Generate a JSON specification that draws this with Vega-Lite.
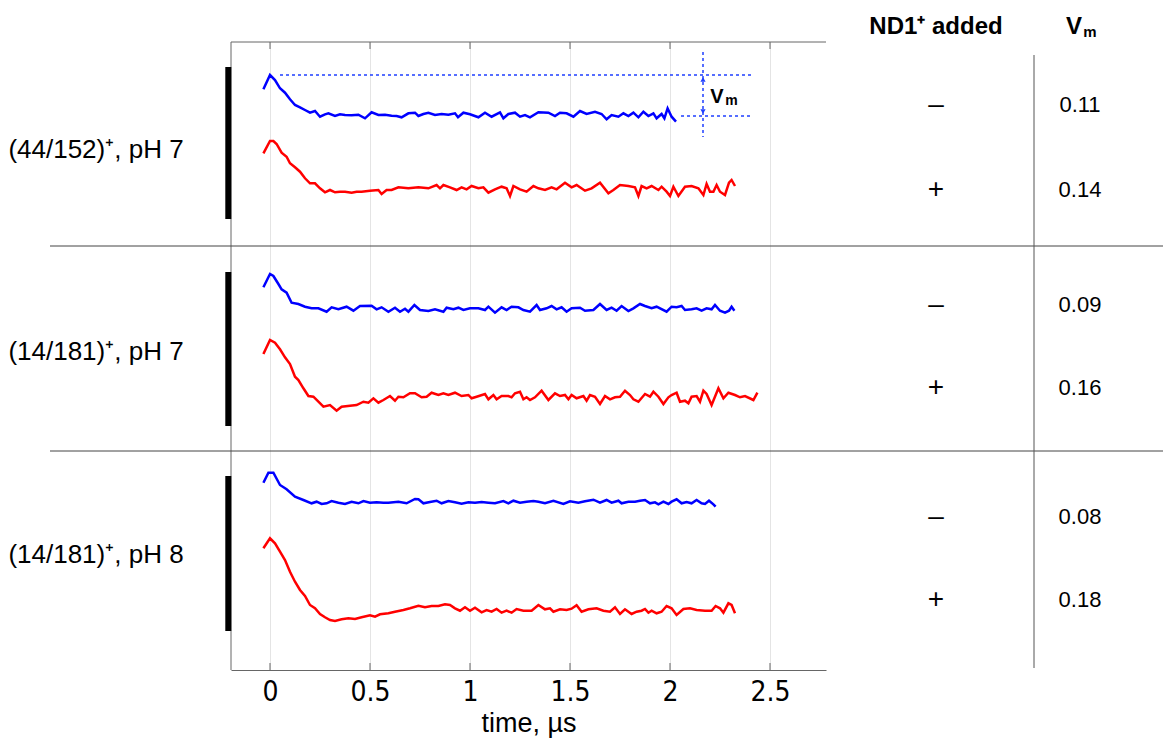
{
  "$schema": "https://vega.github.io/schema/vega-lite/v6.json",
  "width": 595,
  "height": 628,
  "autosize": {"type": "none"},
  "padding": {"left": 231, "top": 42, "right": 337, "bottom": 70},
  "background": "white",
  "config": {"view": {"stroke": null}, "font": "Liberation Sans"},
  "datasets": {
    "traces": [
      {"p":1,"nd":"−","t":-0.033,"v":5.807},{"p":1,"nd":"−","t":0,"v":5.95},{"p":1,"nd":"−","t":0.025,"v":5.9},{"p":1,"nd":"−","t":0.05,"v":5.817},{"p":1,"nd":"−","t":0.075,"v":5.773},{"p":1,"nd":"−","t":0.1,"v":5.707},{"p":1,"nd":"−","t":0.125,"v":5.65},{"p":1,"nd":"−","t":0.15,"v":5.627},{"p":1,"nd":"−","t":0.175,"v":5.6},{"p":1,"nd":"−","t":0.2,"v":5.573},{"p":1,"nd":"−","t":0.225,"v":5.59},{"p":1,"nd":"−","t":0.25,"v":5.533},{"p":1,"nd":"−","t":0.275,"v":5.557},{"p":1,"nd":"−","t":0.292,"v":5.567},{"p":1,"nd":"−","t":0.325,"v":5.54},{"p":1,"nd":"−","t":0.35,"v":5.557},{"p":1,"nd":"−","t":0.375,"v":5.55},{"p":1,"nd":"−","t":0.408,"v":5.547},{"p":1,"nd":"−","t":0.442,"v":5.553},{"p":1,"nd":"−","t":0.475,"v":5.517},{"p":1,"nd":"−","t":0.508,"v":5.577},{"p":1,"nd":"−","t":0.542,"v":5.55},{"p":1,"nd":"−","t":0.575,"v":5.553},{"p":1,"nd":"−","t":0.608,"v":5.543},{"p":1,"nd":"−","t":0.633,"v":5.54},{"p":1,"nd":"−","t":0.658,"v":5.527},{"p":1,"nd":"−","t":0.692,"v":5.567},{"p":1,"nd":"−","t":0.725,"v":5.573},{"p":1,"nd":"−","t":0.742,"v":5.54},{"p":1,"nd":"−","t":0.767,"v":5.56},{"p":1,"nd":"−","t":0.792,"v":5.573},{"p":1,"nd":"−","t":0.825,"v":5.55},{"p":1,"nd":"−","t":0.858,"v":5.56},{"p":1,"nd":"−","t":0.892,"v":5.553},{"p":1,"nd":"−","t":0.925,"v":5.567},{"p":1,"nd":"−","t":0.94,"v":5.527},{"p":1,"nd":"−","t":0.967,"v":5.573},{"p":1,"nd":"−","t":1.0,"v":5.557},{"p":1,"nd":"−","t":1.042,"v":5.527},{"p":1,"nd":"−","t":1.075,"v":5.573},{"p":1,"nd":"−","t":1.108,"v":5.533},{"p":1,"nd":"−","t":1.15,"v":5.577},{"p":1,"nd":"−","t":1.167,"v":5.517},{"p":1,"nd":"−","t":1.192,"v":5.56},{"p":1,"nd":"−","t":1.225,"v":5.573},{"p":1,"nd":"−","t":1.25,"v":5.533},{"p":1,"nd":"−","t":1.275,"v":5.55},{"p":1,"nd":"−","t":1.3,"v":5.527},{"p":1,"nd":"−","t":1.342,"v":5.577},{"p":1,"nd":"−","t":1.392,"v":5.573},{"p":1,"nd":"−","t":1.425,"v":5.54},{"p":1,"nd":"−","t":1.45,"v":5.573},{"p":1,"nd":"−","t":1.483,"v":5.567},{"p":1,"nd":"−","t":1.517,"v":5.533},{"p":1,"nd":"−","t":1.55,"v":5.59},{"p":1,"nd":"−","t":1.583,"v":5.56},{"p":1,"nd":"−","t":1.625,"v":5.583},{"p":1,"nd":"−","t":1.658,"v":5.56},{"p":1,"nd":"−","t":1.683,"v":5.507},{"p":1,"nd":"−","t":1.708,"v":5.55},{"p":1,"nd":"−","t":1.742,"v":5.533},{"p":1,"nd":"−","t":1.767,"v":5.567},{"p":1,"nd":"−","t":1.792,"v":5.54},{"p":1,"nd":"−","t":1.817,"v":5.573},{"p":1,"nd":"−","t":1.842,"v":5.527},{"p":1,"nd":"−","t":1.867,"v":5.583},{"p":1,"nd":"−","t":1.892,"v":5.54},{"p":1,"nd":"−","t":1.917,"v":5.567},{"p":1,"nd":"−","t":1.933,"v":5.517},{"p":1,"nd":"−","t":1.958,"v":5.56},{"p":1,"nd":"−","t":1.972,"v":5.517},{"p":1,"nd":"−","t":1.988,"v":5.617},{"p":1,"nd":"−","t":2.008,"v":5.533},{"p":1,"nd":"−","t":2.03,"v":5.483},

      {"p":1,"nd":"+","t":-0.033,"v":5.167},{"p":1,"nd":"+","t":0,"v":5.29},{"p":1,"nd":"+","t":0.017,"v":5.29},{"p":1,"nd":"+","t":0.033,"v":5.26},{"p":1,"nd":"+","t":0.058,"v":5.173},{"p":1,"nd":"+","t":0.083,"v":5.133},{"p":1,"nd":"+","t":0.1,"v":5.067},{"p":1,"nd":"+","t":0.125,"v":5.027},{"p":1,"nd":"+","t":0.15,"v":4.983},{"p":1,"nd":"+","t":0.175,"v":4.917},{"p":1,"nd":"+","t":0.2,"v":4.867},{"p":1,"nd":"+","t":0.225,"v":4.867},{"p":1,"nd":"+","t":0.25,"v":4.817},{"p":1,"nd":"+","t":0.275,"v":4.777},{"p":1,"nd":"+","t":0.3,"v":4.8},{"p":1,"nd":"+","t":0.325,"v":4.777},{"p":1,"nd":"+","t":0.35,"v":4.783},{"p":1,"nd":"+","t":0.375,"v":4.783},{"p":1,"nd":"+","t":0.408,"v":4.773},{"p":1,"nd":"+","t":0.433,"v":4.783},{"p":1,"nd":"+","t":0.458,"v":4.783},{"p":1,"nd":"+","t":0.5,"v":4.793},{"p":1,"nd":"+","t":0.542,"v":4.8},{"p":1,"nd":"+","t":0.558,"v":4.76},{"p":1,"nd":"+","t":0.583,"v":4.8},{"p":1,"nd":"+","t":0.608,"v":4.8},{"p":1,"nd":"+","t":0.642,"v":4.827},{"p":1,"nd":"+","t":0.692,"v":4.817},{"p":1,"nd":"+","t":0.742,"v":4.827},{"p":1,"nd":"+","t":0.792,"v":4.817},{"p":1,"nd":"+","t":0.833,"v":4.85},{"p":1,"nd":"+","t":0.85,"v":4.817},{"p":1,"nd":"+","t":0.867,"v":4.85},{"p":1,"nd":"+","t":0.9,"v":4.827},{"p":1,"nd":"+","t":0.933,"v":4.8},{"p":1,"nd":"+","t":0.958,"v":4.827},{"p":1,"nd":"+","t":0.983,"v":4.807},{"p":1,"nd":"+","t":1.008,"v":4.84},{"p":1,"nd":"+","t":1.042,"v":4.817},{"p":1,"nd":"+","t":1.067,"v":4.827},{"p":1,"nd":"+","t":1.092,"v":4.773},{"p":1,"nd":"+","t":1.125,"v":4.807},{"p":1,"nd":"+","t":1.158,"v":4.833},{"p":1,"nd":"+","t":1.183,"v":4.817},{"p":1,"nd":"+","t":1.2,"v":4.74},{"p":1,"nd":"+","t":1.217,"v":4.84},{"p":1,"nd":"+","t":1.25,"v":4.807},{"p":1,"nd":"+","t":1.283,"v":4.783},{"p":1,"nd":"+","t":1.317,"v":4.84},{"p":1,"nd":"+","t":1.342,"v":4.817},{"p":1,"nd":"+","t":1.375,"v":4.8},{"p":1,"nd":"+","t":1.408,"v":4.827},{"p":1,"nd":"+","t":1.433,"v":4.807},{"p":1,"nd":"+","t":1.475,"v":4.873},{"p":1,"nd":"+","t":1.508,"v":4.827},{"p":1,"nd":"+","t":1.533,"v":4.85},{"p":1,"nd":"+","t":1.575,"v":4.793},{"p":1,"nd":"+","t":1.608,"v":4.817},{"p":1,"nd":"+","t":1.65,"v":4.873},{"p":1,"nd":"+","t":1.692,"v":4.767},{"p":1,"nd":"+","t":1.717,"v":4.8},{"p":1,"nd":"+","t":1.75,"v":4.85},{"p":1,"nd":"+","t":1.792,"v":4.84},{"p":1,"nd":"+","t":1.825,"v":4.827},{"p":1,"nd":"+","t":1.842,"v":4.74},{"p":1,"nd":"+","t":1.858,"v":4.84},{"p":1,"nd":"+","t":1.883,"v":4.817},{"p":1,"nd":"+","t":1.908,"v":4.84},{"p":1,"nd":"+","t":1.942,"v":4.8},{"p":1,"nd":"+","t":1.958,"v":4.833},{"p":1,"nd":"+","t":1.983,"v":4.783},{"p":1,"nd":"+","t":2.0,"v":4.74},{"p":1,"nd":"+","t":2.017,"v":4.833},{"p":1,"nd":"+","t":2.042,"v":4.74},{"p":1,"nd":"+","t":2.075,"v":4.833},{"p":1,"nd":"+","t":2.108,"v":4.84},{"p":1,"nd":"+","t":2.142,"v":4.817},{"p":1,"nd":"+","t":2.167,"v":4.75},{"p":1,"nd":"+","t":2.183,"v":4.86},{"p":1,"nd":"+","t":2.2,"v":4.783},{"p":1,"nd":"+","t":2.217,"v":4.783},{"p":1,"nd":"+","t":2.233,"v":4.85},{"p":1,"nd":"+","t":2.25,"v":4.783},{"p":1,"nd":"+","t":2.275,"v":4.75},{"p":1,"nd":"+","t":2.295,"v":4.873},{"p":1,"nd":"+","t":2.308,"v":4.9},{"p":1,"nd":"+","t":2.325,"v":4.84},

      {"p":2,"nd":"−","t":-0.033,"v":3.827},{"p":2,"nd":"−","t":0,"v":3.96},{"p":2,"nd":"−","t":0.017,"v":3.94},{"p":2,"nd":"−","t":0.042,"v":3.86},{"p":2,"nd":"−","t":0.058,"v":3.807},{"p":2,"nd":"−","t":0.083,"v":3.773},{"p":2,"nd":"−","t":0.108,"v":3.673},{"p":2,"nd":"−","t":0.142,"v":3.66},{"p":2,"nd":"−","t":0.175,"v":3.633},{"p":2,"nd":"−","t":0.208,"v":3.617},{"p":2,"nd":"−","t":0.242,"v":3.617},{"p":2,"nd":"−","t":0.283,"v":3.583},{"p":2,"nd":"−","t":0.308,"v":3.627},{"p":2,"nd":"−","t":0.342,"v":3.607},{"p":2,"nd":"−","t":0.383,"v":3.633},{"p":2,"nd":"−","t":0.417,"v":3.593},{"p":2,"nd":"−","t":0.45,"v":3.64},{"p":2,"nd":"−","t":0.508,"v":3.643},{"p":2,"nd":"−","t":0.533,"v":3.607},{"p":2,"nd":"−","t":0.558,"v":3.627},{"p":2,"nd":"−","t":0.592,"v":3.583},{"p":2,"nd":"−","t":0.625,"v":3.623},{"p":2,"nd":"−","t":0.65,"v":3.583},{"p":2,"nd":"−","t":0.675,"v":3.613},{"p":2,"nd":"−","t":0.692,"v":3.583},{"p":2,"nd":"−","t":0.722,"v":3.65},{"p":2,"nd":"−","t":0.75,"v":3.6},{"p":2,"nd":"−","t":0.792,"v":3.59},{"p":2,"nd":"−","t":0.825,"v":3.607},{"p":2,"nd":"−","t":0.867,"v":3.583},{"p":2,"nd":"−","t":0.883,"v":3.623},{"p":2,"nd":"−","t":0.917,"v":3.607},{"p":2,"nd":"−","t":0.942,"v":3.623},{"p":2,"nd":"−","t":0.967,"v":3.6},{"p":2,"nd":"−","t":1.0,"v":3.617},{"p":2,"nd":"−","t":1.042,"v":3.617},{"p":2,"nd":"−","t":1.075,"v":3.6},{"p":2,"nd":"−","t":1.092,"v":3.633},{"p":2,"nd":"−","t":1.125,"v":3.573},{"p":2,"nd":"−","t":1.158,"v":3.627},{"p":2,"nd":"−","t":1.183,"v":3.6},{"p":2,"nd":"−","t":1.208,"v":3.633},{"p":2,"nd":"−","t":1.242,"v":3.627},{"p":2,"nd":"−","t":1.267,"v":3.6},{"p":2,"nd":"−","t":1.3,"v":3.583},{"p":2,"nd":"−","t":1.333,"v":3.65},{"p":2,"nd":"−","t":1.35,"v":3.6},{"p":2,"nd":"−","t":1.383,"v":3.617},{"p":2,"nd":"−","t":1.408,"v":3.64},{"p":2,"nd":"−","t":1.433,"v":3.607},{"p":2,"nd":"−","t":1.458,"v":3.627},{"p":2,"nd":"−","t":1.483,"v":3.583},{"p":2,"nd":"−","t":1.508,"v":3.617},{"p":2,"nd":"−","t":1.55,"v":3.623},{"p":2,"nd":"−","t":1.575,"v":3.593},{"p":2,"nd":"−","t":1.617,"v":3.6},{"p":2,"nd":"−","t":1.65,"v":3.66},{"p":2,"nd":"−","t":1.683,"v":3.6},{"p":2,"nd":"−","t":1.708,"v":3.623},{"p":2,"nd":"−","t":1.733,"v":3.593},{"p":2,"nd":"−","t":1.758,"v":3.64},{"p":2,"nd":"−","t":1.792,"v":3.59},{"p":2,"nd":"−","t":1.817,"v":3.617},{"p":2,"nd":"−","t":1.85,"v":3.66},{"p":2,"nd":"−","t":1.875,"v":3.64},{"p":2,"nd":"−","t":1.908,"v":3.617},{"p":2,"nd":"−","t":1.933,"v":3.633},{"p":2,"nd":"−","t":1.983,"v":3.583},{"p":2,"nd":"−","t":2.008,"v":3.633},{"p":2,"nd":"−","t":2.033,"v":3.627},{"p":2,"nd":"−","t":2.058,"v":3.64},{"p":2,"nd":"−","t":2.075,"v":3.6},{"p":2,"nd":"−","t":2.108,"v":3.607},{"p":2,"nd":"−","t":2.133,"v":3.617},{"p":2,"nd":"−","t":2.158,"v":3.593},{"p":2,"nd":"−","t":2.183,"v":3.617},{"p":2,"nd":"−","t":2.208,"v":3.607},{"p":2,"nd":"−","t":2.225,"v":3.65},{"p":2,"nd":"−","t":2.25,"v":3.593},{"p":2,"nd":"−","t":2.275,"v":3.573},{"p":2,"nd":"−","t":2.295,"v":3.593},{"p":2,"nd":"−","t":2.308,"v":3.633},{"p":2,"nd":"−","t":2.322,"v":3.593},

      {"p":2,"nd":"+","t":-0.033,"v":3.16},{"p":2,"nd":"+","t":0,"v":3.3},{"p":2,"nd":"+","t":0.025,"v":3.273},{"p":2,"nd":"+","t":0.05,"v":3.207},{"p":2,"nd":"+","t":0.075,"v":3.127},{"p":2,"nd":"+","t":0.1,"v":3.06},{"p":2,"nd":"+","t":0.125,"v":2.933},{"p":2,"nd":"+","t":0.142,"v":2.9},{"p":2,"nd":"+","t":0.167,"v":2.817},{"p":2,"nd":"+","t":0.192,"v":2.74},{"p":2,"nd":"+","t":0.217,"v":2.733},{"p":2,"nd":"+","t":0.242,"v":2.683},{"p":2,"nd":"+","t":0.267,"v":2.633},{"p":2,"nd":"+","t":0.3,"v":2.65},{"p":2,"nd":"+","t":0.333,"v":2.593},{"p":2,"nd":"+","t":0.358,"v":2.633},{"p":2,"nd":"+","t":0.4,"v":2.643},{"p":2,"nd":"+","t":0.433,"v":2.65},{"p":2,"nd":"+","t":0.467,"v":2.683},{"p":2,"nd":"+","t":0.492,"v":2.673},{"p":2,"nd":"+","t":0.517,"v":2.717},{"p":2,"nd":"+","t":0.542,"v":2.673},{"p":2,"nd":"+","t":0.567,"v":2.7},{"p":2,"nd":"+","t":0.6,"v":2.74},{"p":2,"nd":"+","t":0.625,"v":2.693},{"p":2,"nd":"+","t":0.642,"v":2.733},{"p":2,"nd":"+","t":0.667,"v":2.727},{"p":2,"nd":"+","t":0.7,"v":2.767},{"p":2,"nd":"+","t":0.725,"v":2.767},{"p":2,"nd":"+","t":0.758,"v":2.727},{"p":2,"nd":"+","t":0.783,"v":2.733},{"p":2,"nd":"+","t":0.808,"v":2.773},{"p":2,"nd":"+","t":0.842,"v":2.75},{"p":2,"nd":"+","t":0.867,"v":2.767},{"p":2,"nd":"+","t":0.892,"v":2.75},{"p":2,"nd":"+","t":0.925,"v":2.773},{"p":2,"nd":"+","t":0.958,"v":2.74},{"p":2,"nd":"+","t":0.992,"v":2.75},{"p":2,"nd":"+","t":1.008,"v":2.717},{"p":2,"nd":"+","t":1.033,"v":2.733},{"p":2,"nd":"+","t":1.075,"v":2.76},{"p":2,"nd":"+","t":1.092,"v":2.707},{"p":2,"nd":"+","t":1.117,"v":2.75},{"p":2,"nd":"+","t":1.133,"v":2.707},{"p":2,"nd":"+","t":1.158,"v":2.74},{"p":2,"nd":"+","t":1.192,"v":2.74},{"p":2,"nd":"+","t":1.208,"v":2.727},{"p":2,"nd":"+","t":1.225,"v":2.767},{"p":2,"nd":"+","t":1.25,"v":2.783},{"p":2,"nd":"+","t":1.267,"v":2.707},{"p":2,"nd":"+","t":1.283,"v":2.727},{"p":2,"nd":"+","t":1.3,"v":2.7},{"p":2,"nd":"+","t":1.325,"v":2.727},{"p":2,"nd":"+","t":1.358,"v":2.793},{"p":2,"nd":"+","t":1.392,"v":2.7},{"p":2,"nd":"+","t":1.425,"v":2.767},{"p":2,"nd":"+","t":1.45,"v":2.74},{"p":2,"nd":"+","t":1.475,"v":2.75},{"p":2,"nd":"+","t":1.492,"v":2.707},{"p":2,"nd":"+","t":1.508,"v":2.75},{"p":2,"nd":"+","t":1.533,"v":2.717},{"p":2,"nd":"+","t":1.567,"v":2.74},{"p":2,"nd":"+","t":1.583,"v":2.693},{"p":2,"nd":"+","t":1.6,"v":2.75},{"p":2,"nd":"+","t":1.625,"v":2.733},{"p":2,"nd":"+","t":1.65,"v":2.66},{"p":2,"nd":"+","t":1.675,"v":2.74},{"p":2,"nd":"+","t":1.7,"v":2.707},{"p":2,"nd":"+","t":1.725,"v":2.727},{"p":2,"nd":"+","t":1.75,"v":2.733},{"p":2,"nd":"+","t":1.775,"v":2.793},{"p":2,"nd":"+","t":1.8,"v":2.75},{"p":2,"nd":"+","t":1.817,"v":2.707},{"p":2,"nd":"+","t":1.842,"v":2.683},{"p":2,"nd":"+","t":1.875,"v":2.76},{"p":2,"nd":"+","t":1.9,"v":2.733},{"p":2,"nd":"+","t":1.917,"v":2.783},{"p":2,"nd":"+","t":1.942,"v":2.733},{"p":2,"nd":"+","t":1.967,"v":2.66},{"p":2,"nd":"+","t":1.992,"v":2.727},{"p":2,"nd":"+","t":2.008,"v":2.75},{"p":2,"nd":"+","t":2.033,"v":2.773},{"p":2,"nd":"+","t":2.05,"v":2.683},{"p":2,"nd":"+","t":2.075,"v":2.693},{"p":2,"nd":"+","t":2.092,"v":2.667},{"p":2,"nd":"+","t":2.108,"v":2.733},{"p":2,"nd":"+","t":2.133,"v":2.74},{"p":2,"nd":"+","t":2.15,"v":2.683},{"p":2,"nd":"+","t":2.167,"v":2.793},{"p":2,"nd":"+","t":2.183,"v":2.76},{"p":2,"nd":"+","t":2.208,"v":2.65},{"p":2,"nd":"+","t":2.242,"v":2.817},{"p":2,"nd":"+","t":2.267,"v":2.717},{"p":2,"nd":"+","t":2.292,"v":2.773},{"p":2,"nd":"+","t":2.325,"v":2.75},{"p":2,"nd":"+","t":2.35,"v":2.727},{"p":2,"nd":"+","t":2.375,"v":2.74},{"p":2,"nd":"+","t":2.417,"v":2.7},{"p":2,"nd":"+","t":2.437,"v":2.773},

      {"p":3,"nd":"−","t":-0.033,"v":1.873},{"p":3,"nd":"−","t":-0.008,"v":1.973},{"p":3,"nd":"−","t":0.017,"v":1.973},{"p":3,"nd":"−","t":0.05,"v":1.85},{"p":3,"nd":"−","t":0.083,"v":1.807},{"p":3,"nd":"−","t":0.125,"v":1.733},{"p":3,"nd":"−","t":0.167,"v":1.7},{"p":3,"nd":"−","t":0.208,"v":1.667},{"p":3,"nd":"−","t":0.233,"v":1.683},{"p":3,"nd":"−","t":0.258,"v":1.66},{"p":3,"nd":"−","t":0.283,"v":1.667},{"p":3,"nd":"−","t":0.308,"v":1.69},{"p":3,"nd":"−","t":0.342,"v":1.673},{"p":3,"nd":"−","t":0.375,"v":1.66},{"p":3,"nd":"−","t":0.408,"v":1.683},{"p":3,"nd":"−","t":0.442,"v":1.667},{"p":3,"nd":"−","t":0.467,"v":1.69},{"p":3,"nd":"−","t":0.5,"v":1.673},{"p":3,"nd":"−","t":0.533,"v":1.677},{"p":3,"nd":"−","t":0.567,"v":1.673},{"p":3,"nd":"−","t":0.592,"v":1.673},{"p":3,"nd":"−","t":0.642,"v":1.683},{"p":3,"nd":"−","t":0.683,"v":1.667},{"p":3,"nd":"−","t":0.725,"v":1.71},{"p":3,"nd":"−","t":0.742,"v":1.707},{"p":3,"nd":"−","t":0.767,"v":1.667},{"p":3,"nd":"−","t":0.8,"v":1.68},{"p":3,"nd":"−","t":0.833,"v":1.693},{"p":3,"nd":"−","t":0.858,"v":1.667},{"p":3,"nd":"−","t":0.892,"v":1.69},{"p":3,"nd":"−","t":0.925,"v":1.677},{"p":3,"nd":"−","t":0.958,"v":1.663},{"p":3,"nd":"−","t":0.992,"v":1.677},{"p":3,"nd":"−","t":1.025,"v":1.673},{"p":3,"nd":"−","t":1.058,"v":1.68},{"p":3,"nd":"−","t":1.092,"v":1.673},{"p":3,"nd":"−","t":1.125,"v":1.667},{"p":3,"nd":"−","t":1.167,"v":1.69},{"p":3,"nd":"−","t":1.192,"v":1.667},{"p":3,"nd":"−","t":1.217,"v":1.693},{"p":3,"nd":"−","t":1.25,"v":1.673},{"p":3,"nd":"−","t":1.283,"v":1.683},{"p":3,"nd":"−","t":1.317,"v":1.69},{"p":3,"nd":"−","t":1.342,"v":1.683},{"p":3,"nd":"−","t":1.375,"v":1.667},{"p":3,"nd":"−","t":1.417,"v":1.693},{"p":3,"nd":"−","t":1.467,"v":1.66},{"p":3,"nd":"−","t":1.5,"v":1.687},{"p":3,"nd":"−","t":1.542,"v":1.673},{"p":3,"nd":"−","t":1.575,"v":1.687},{"p":3,"nd":"−","t":1.617,"v":1.703},{"p":3,"nd":"−","t":1.65,"v":1.673},{"p":3,"nd":"−","t":1.683,"v":1.7},{"p":3,"nd":"−","t":1.708,"v":1.673},{"p":3,"nd":"−","t":1.742,"v":1.693},{"p":3,"nd":"−","t":1.758,"v":1.667},{"p":3,"nd":"−","t":1.792,"v":1.683},{"p":3,"nd":"−","t":1.825,"v":1.683},{"p":3,"nd":"−","t":1.85,"v":1.693},{"p":3,"nd":"−","t":1.875,"v":1.7},{"p":3,"nd":"−","t":1.9,"v":1.667},{"p":3,"nd":"−","t":1.925,"v":1.677},{"p":3,"nd":"−","t":1.942,"v":1.657},{"p":3,"nd":"−","t":1.967,"v":1.683},{"p":3,"nd":"−","t":1.992,"v":1.66},{"p":3,"nd":"−","t":2.008,"v":1.683},{"p":3,"nd":"−","t":2.033,"v":1.707},{"p":3,"nd":"−","t":2.058,"v":1.667},{"p":3,"nd":"−","t":2.083,"v":1.68},{"p":3,"nd":"−","t":2.108,"v":1.667},{"p":3,"nd":"−","t":2.133,"v":1.7},{"p":3,"nd":"−","t":2.158,"v":1.667},{"p":3,"nd":"−","t":2.175,"v":1.66},{"p":3,"nd":"−","t":2.195,"v":1.693},{"p":3,"nd":"−","t":2.217,"v":1.657},{"p":3,"nd":"−","t":2.228,"v":1.633},

      {"p":3,"nd":"+","t":-0.033,"v":1.217},{"p":3,"nd":"+","t":0,"v":1.317},{"p":3,"nd":"+","t":0.025,"v":1.267},{"p":3,"nd":"+","t":0.05,"v":1.183},{"p":3,"nd":"+","t":0.075,"v":1.1},{"p":3,"nd":"+","t":0.1,"v":0.983},{"p":3,"nd":"+","t":0.125,"v":0.883},{"p":3,"nd":"+","t":0.15,"v":0.8},{"p":3,"nd":"+","t":0.175,"v":0.74},{"p":3,"nd":"+","t":0.2,"v":0.65},{"p":3,"nd":"+","t":0.225,"v":0.617},{"p":3,"nd":"+","t":0.25,"v":0.56},{"p":3,"nd":"+","t":0.275,"v":0.527},{"p":3,"nd":"+","t":0.3,"v":0.5},{"p":3,"nd":"+","t":0.325,"v":0.49},{"p":3,"nd":"+","t":0.358,"v":0.507},{"p":3,"nd":"+","t":0.392,"v":0.517},{"p":3,"nd":"+","t":0.425,"v":0.51},{"p":3,"nd":"+","t":0.458,"v":0.527},{"p":3,"nd":"+","t":0.5,"v":0.547},{"p":3,"nd":"+","t":0.525,"v":0.533},{"p":3,"nd":"+","t":0.55,"v":0.557},{"p":3,"nd":"+","t":0.592,"v":0.567},{"p":3,"nd":"+","t":0.625,"v":0.583},{"p":3,"nd":"+","t":0.667,"v":0.6},{"p":3,"nd":"+","t":0.7,"v":0.617},{"p":3,"nd":"+","t":0.742,"v":0.643},{"p":3,"nd":"+","t":0.775,"v":0.627},{"p":3,"nd":"+","t":0.808,"v":0.64},{"p":3,"nd":"+","t":0.842,"v":0.64},{"p":3,"nd":"+","t":0.875,"v":0.657},{"p":3,"nd":"+","t":0.9,"v":0.65},{"p":3,"nd":"+","t":0.925,"v":0.617},{"p":3,"nd":"+","t":0.95,"v":0.593},{"p":3,"nd":"+","t":0.975,"v":0.627},{"p":3,"nd":"+","t":1.0,"v":0.593},{"p":3,"nd":"+","t":1.025,"v":0.623},{"p":3,"nd":"+","t":1.058,"v":0.577},{"p":3,"nd":"+","t":1.083,"v":0.6},{"p":3,"nd":"+","t":1.108,"v":0.583},{"p":3,"nd":"+","t":1.133,"v":0.61},{"p":3,"nd":"+","t":1.158,"v":0.573},{"p":3,"nd":"+","t":1.183,"v":0.593},{"p":3,"nd":"+","t":1.208,"v":0.573},{"p":3,"nd":"+","t":1.233,"v":0.61},{"p":3,"nd":"+","t":1.267,"v":0.593},{"p":3,"nd":"+","t":1.308,"v":0.593},{"p":3,"nd":"+","t":1.342,"v":0.65},{"p":3,"nd":"+","t":1.375,"v":0.607},{"p":3,"nd":"+","t":1.4,"v":0.617},{"p":3,"nd":"+","t":1.417,"v":0.583},{"p":3,"nd":"+","t":1.45,"v":0.607},{"p":3,"nd":"+","t":1.483,"v":0.6},{"p":3,"nd":"+","t":1.508,"v":0.613},{"p":3,"nd":"+","t":1.533,"v":0.647},{"p":3,"nd":"+","t":1.558,"v":0.583},{"p":3,"nd":"+","t":1.592,"v":0.607},{"p":3,"nd":"+","t":1.633,"v":0.617},{"p":3,"nd":"+","t":1.667,"v":0.593},{"p":3,"nd":"+","t":1.7,"v":0.583},{"p":3,"nd":"+","t":1.725,"v":0.627},{"p":3,"nd":"+","t":1.75,"v":0.56},{"p":3,"nd":"+","t":1.775,"v":0.607},{"p":3,"nd":"+","t":1.808,"v":0.56},{"p":3,"nd":"+","t":1.833,"v":0.583},{"p":3,"nd":"+","t":1.858,"v":0.593},{"p":3,"nd":"+","t":1.875,"v":0.61},{"p":3,"nd":"+","t":1.892,"v":0.573},{"p":3,"nd":"+","t":1.908,"v":0.593},{"p":3,"nd":"+","t":1.933,"v":0.567},{"p":3,"nd":"+","t":1.958,"v":0.583},{"p":3,"nd":"+","t":1.983,"v":0.64},{"p":3,"nd":"+","t":2.008,"v":0.617},{"p":3,"nd":"+","t":2.033,"v":0.55},{"p":3,"nd":"+","t":2.067,"v":0.61},{"p":3,"nd":"+","t":2.1,"v":0.617},{"p":3,"nd":"+","t":2.133,"v":0.6},{"p":3,"nd":"+","t":2.175,"v":0.593},{"p":3,"nd":"+","t":2.208,"v":0.593},{"p":3,"nd":"+","t":2.228,"v":0.64},{"p":3,"nd":"+","t":2.25,"v":0.617},{"p":3,"nd":"+","t":2.267,"v":0.573},{"p":3,"nd":"+","t":2.292,"v":0.667},{"p":3,"nd":"+","t":2.308,"v":0.65},{"p":3,"nd":"+","t":2.325,"v":0.567}
    ],
    "samples": [
      {"p":1,"label":"(44/152)⁺, pH 7","mid":5.2,"top":6.03,"bot":4.51},
      {"p":2,"label":"(14/181)⁺, pH 7","mid":3.18,"top":3.98,"bot":2.44},
      {"p":3,"label":"(14/181)⁺, pH 8","mid":1.15,"top":1.94,"bot":0.39}
    ],
    "table": [
      {"p":1,"nd":"–","vm":"0.11","lvl":5.65},
      {"p":1,"nd":"+","vm":"0.14","lvl":4.8},
      {"p":2,"nd":"–","vm":"0.09","lvl":3.65},
      {"p":2,"nd":"+","vm":"0.16","lvl":2.82},
      {"p":3,"nd":"–","vm":"0.08","lvl":1.53},
      {"p":3,"nd":"+","vm":"0.18","lvl":0.7}
    ],
    "ticks": [{"tk":0},{"tk":0.5},{"tk":1},{"tk":1.5},{"tk":2},{"tk":2.5}],
    "separators": [{"lvl":4.24},{"lvl":2.19}],
    "vmlevels": [
      {"kind":"peak","lvl":5.95,"from":0.05,"to":2.41},
      {"kind":"plateau","lvl":5.54,"from":2.055,"to":2.41}
    ],
    "one": [{}]
  },
  "layer": [
    {
      "data": {"name": "traces"},
      "mark": {"type": "line", "strokeWidth": 2.5, "clip": false},
      "encoding": {
        "x": {
          "field": "t", "type": "quantitative",
          "scale": {"domain": [-0.195, 2.78], "nice": false, "zero": false},
          "axis": {
            "values": [0, 0.5, 1, 1.5, 2, 2.5], "format": "~g",
            "title": "time, µs", "titleFont": "Liberation Sans", "titleFontSize": 27,
            "titleFontWeight": "normal", "titleColor": "#000", "titlePadding": 4,
            "labelFont": "Liberation Sans Narrow, DejaVu Sans Condensed, Liberation Sans",
            "labelFontSize": 28, "labelColor": "#000", "labelPadding": 8, "labelFlush": false,
            "ticks": false, "domainColor": "#666", "domainWidth": 1,
            "grid": true, "gridColor": "#e4e4e4", "gridWidth": 1
          }
        },
        "y": {
          "field": "v", "type": "quantitative",
          "scale": {"domain": [0, 6.28], "nice": false, "zero": false},
          "axis": null
        },
        "color": {
          "field": "nd", "type": "nominal",
          "scale": {"domain": ["−", "+"], "range": ["#0000ff", "#ff0000"]},
          "legend": null
        },
        "detail": {"field": "p", "type": "nominal"}
      }
    },
    {
      "data": {"name": "one"},
      "mark": {"type": "rule", "color": "#666", "strokeWidth": 1},
      "encoding": {"x": {"datum": -0.195}, "x2": {"datum": 2.78}, "y": {"datum": 6.28}}
    },
    {
      "data": {"name": "one"},
      "mark": {"type": "rule", "color": "#666", "strokeWidth": 1},
      "encoding": {"x": {"datum": -0.195}, "y": {"datum": 0}, "y2": {"datum": 6.28}}
    },
    {
      "data": {"name": "ticks"},
      "mark": {"type": "rule", "color": "#666", "strokeWidth": 1},
      "encoding": {"x": {"field": "tk", "type": "quantitative"}, "y": {"datum": 0}, "y2": {"datum": 0.07}}
    },
    {
      "data": {"name": "ticks"},
      "mark": {"type": "rule", "color": "#666", "strokeWidth": 1},
      "encoding": {"x": {"field": "tk", "type": "quantitative"}, "y": {"datum": 6.21}, "y2": {"datum": 6.28}}
    },
    {
      "data": {"name": "separators"},
      "mark": {"type": "rule", "color": "#444", "strokeWidth": 1},
      "encoding": {"x": {"datum": -1.1}, "x2": {"datum": 4.465}, "y": {"field": "lvl", "type": "quantitative"}}
    },
    {
      "data": {"name": "one"},
      "mark": {"type": "rule", "color": "#555", "strokeWidth": 1},
      "encoding": {"x": {"datum": 3.82}, "y": {"datum": 6.15}, "y2": {"datum": 0.02}}
    },
    {
      "data": {"name": "samples"},
      "mark": {"type": "rule", "color": "#000", "strokeWidth": 6},
      "encoding": {"x": {"datum": -0.2085}, "y": {"field": "top", "type": "quantitative"}, "y2": {"field": "bot"}}
    },
    {
      "data": {"name": "samples"},
      "mark": {"type": "text", "font": "Liberation Sans", "fontSize": 26, "align": "center", "baseline": "middle", "color": "#000"},
      "encoding": {"x": {"datum": -0.87}, "y": {"field": "mid", "type": "quantitative"}, "text": {"field": "label"}}
    },
    {
      "data": {"name": "vmlevels"},
      "mark": {"type": "rule", "color": "#1f3fff", "strokeWidth": 1.5, "strokeDash": [3, 3]},
      "encoding": {"x": {"field": "from", "type": "quantitative"}, "x2": {"field": "to"}, "y": {"field": "lvl", "type": "quantitative"}}
    },
    {
      "data": {"name": "one"},
      "mark": {"type": "rule", "color": "#1f3fff", "strokeWidth": 1.5, "strokeDash": [3, 3]},
      "encoding": {"x": {"datum": 2.165}, "y": {"datum": 6.18}, "y2": {"datum": 5.33}}
    },
    {
      "data": {"name": "one"},
      "mark": {"type": "point", "shape": "triangle-up", "filled": true, "color": "#1f3fff", "size": 28, "opacity": 1},
      "encoding": {"x": {"datum": 2.165}, "y": {"datum": 5.905}}
    },
    {
      "data": {"name": "one"},
      "mark": {"type": "point", "shape": "triangle-down", "filled": true, "color": "#1f3fff", "size": 28, "opacity": 1},
      "encoding": {"x": {"datum": 2.165}, "y": {"datum": 5.585}}
    },
    {
      "data": {"name": "one"},
      "mark": {"type": "text", "text": "V", "font": "Liberation Sans", "fontWeight": "bold", "fontSize": 20, "align": "center", "baseline": "middle", "color": "#000"},
      "encoding": {"x": {"datum": 2.235}, "y": {"datum": 5.73}}
    },
    {
      "data": {"name": "one"},
      "mark": {"type": "text", "text": "m", "font": "Liberation Sans", "fontWeight": "bold", "fontSize": 14, "align": "center", "baseline": "middle", "color": "#000"},
      "encoding": {"x": {"datum": 2.307}, "y": {"datum": 5.69}}
    },
    {
      "data": {"name": "one"},
      "mark": {"type": "text", "text": "ND1⁺ added", "font": "Liberation Sans", "fontWeight": "bold", "fontSize": 24, "align": "center", "baseline": "middle", "color": "#000"},
      "encoding": {"x": {"datum": 3.33}, "y": {"datum": 6.43}}
    },
    {
      "data": {"name": "one"},
      "mark": {"type": "text", "text": "V", "font": "Liberation Sans", "fontWeight": "bold", "fontSize": 24, "align": "center", "baseline": "middle", "color": "#000"},
      "encoding": {"x": {"datum": 4.02}, "y": {"datum": 6.43}}
    },
    {
      "data": {"name": "one"},
      "mark": {"type": "text", "text": "m", "font": "Liberation Sans", "fontWeight": "bold", "fontSize": 15, "align": "center", "baseline": "middle", "color": "#000"},
      "encoding": {"x": {"datum": 4.1}, "y": {"datum": 6.385}}
    },
    {
      "data": {"name": "table"},
      "mark": {"type": "text", "font": "Liberation Sans", "fontSize": 28, "align": "center", "baseline": "middle", "color": "#000"},
      "encoding": {"x": {"datum": 3.33}, "y": {"field": "lvl", "type": "quantitative"}, "text": {"field": "nd"}}
    },
    {
      "data": {"name": "table"},
      "mark": {"type": "text", "font": "Liberation Sans", "fontSize": 22, "align": "center", "baseline": "middle", "color": "#000"},
      "encoding": {"x": {"datum": 4.05}, "y": {"field": "lvl", "type": "quantitative"}, "text": {"field": "vm"}}
    }
  ]
}
